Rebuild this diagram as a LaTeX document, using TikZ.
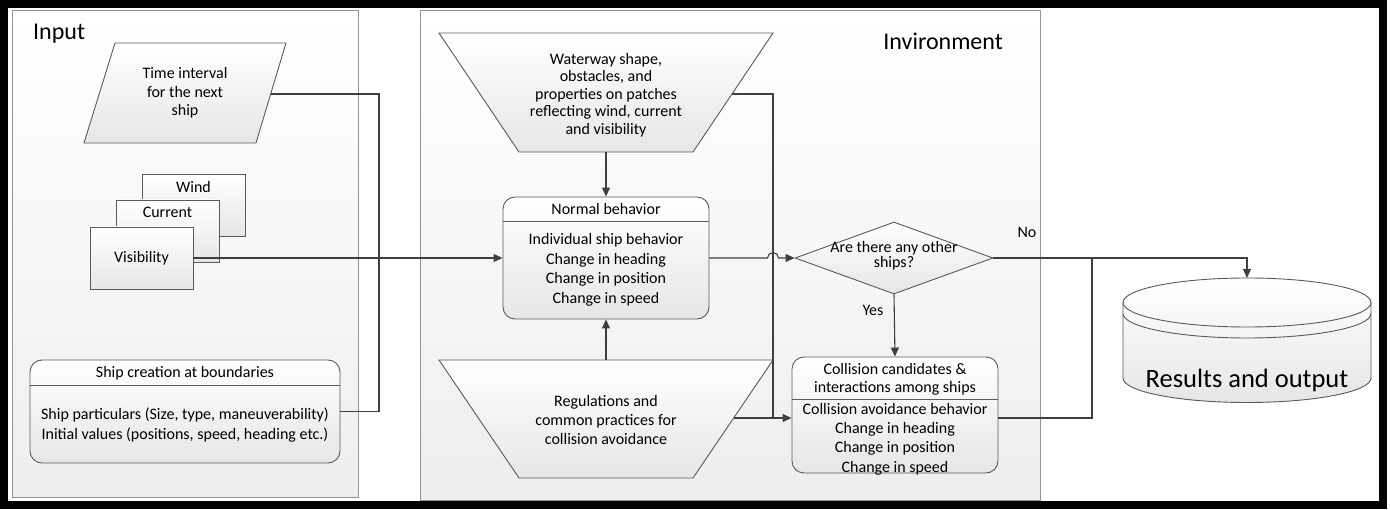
\documentclass[tikz,border=0pt]{standalone}
\usepackage{fontspec}
\setmainfont{Carlito}
\usetikzlibrary{arrows.meta,shapes.geometric}

\definecolor{lineC}{HTML}{3F3F3F}
\definecolor{edgeC}{HTML}{5A5A5A}
\definecolor{panelC}{HTML}{EEEEEE}
\definecolor{boxC}{HTML}{E6E6E6}

\tikzset{
  panel/.style={draw=gray!85, line width=0.8pt, top color=white, bottom color=panelC},
  shapebox/.style={draw=edgeC, line width=0.9pt, top color=white, bottom color=boxC},
  roundbox/.style={shapebox, rounded corners=12pt},
  txt/.style={font=\fontsize{16}{19.5}\selectfont, align=center, inner sep=0pt},
  bigtxt/.style={font=\fontsize{24}{28}\selectfont, inner sep=0pt},
  link/.style={draw=lineC, line width=1.1pt},
  flow/.style={link, -{Triangle[length=9pt,width=8pt]}}
}

\begin{document}
\begin{tikzpicture}[x=1pt, y=-1pt]

    \useasboundingbox (0,0) rectangle (1390,510);

    % Frame
    \draw[line width=8pt] (4,4) rectangle (1383,505);

    % Panels
    \draw[panel] (12,10) rectangle (358,497);
    \node[bigtxt, anchor=base west] (inputT) at (33,40) {Input};
    \draw[panel] (420,10) rectangle (1040,500);
    \node[bigtxt, anchor=base east] (envT) at (1003,50) {Invironment};

    % Time interval
    \draw[shapebox] (115,43) -- (286,43) -- (256,143) -- (84,143) -- cycle;
    \node[txt, font=\fontsize{16}{18.5}\selectfont] (timeT) at (185,93) {Time interval\\for the next\\ship};
    \coordinate (timeE) at (271,94);

    % Wind, current, visibility
    \node[shapebox, minimum width=103pt, minimum height=62pt] (wind) at (193.5,205) {};
    \node[txt] (windT) at ([yshift=-13pt]wind.north) {Wind};
    \node[shapebox, minimum width=103pt, minimum height=62pt] (curr) at (167.5,231) {};
    \node[txt] (currT) at ([yshift=-13pt]curr.north) {Current};
    \node[shapebox, txt, minimum width=103pt, minimum height=62pt] (vis) at (141.5,258) {Visibility};

    % Ship creation
    \node[roundbox, minimum width=310pt, minimum height=103pt] (ship) at (185,411.5) {};
    \draw[edgeC, line width=0.9pt] (ship.west |- 0,385) -- (ship.east |- 0,385);
    \node[txt] (shipT) at (185,373) {Ship creation at boundaries};
    \node[txt] (shipB) at (185,425) {Ship particulars (Size, type, maneuverability)\\Initial values (positions, speed, heading etc.)};

    % Input connectors
    \coordinate (join) at (379,258);
    \draw[link] (timeE) -| (join);
    \draw[link] (ship.east) -| (join);

    % Waterway
    \draw[shapebox] (439,33) -- (773,33) -- (693,152) -- (519,152) -- cycle;
    \node[txt, font=\fontsize{16}{17.5}\selectfont] (wwT) at (606,95) {Waterway shape,\\obstacles, and\\properties on patches\\reflecting wind, current\\and visibility};
    \coordinate (wwS) at (606,152);
    \coordinate (wwE) at (732,94);

    % Normal behavior
    \node[roundbox, minimum width=206pt, minimum height=122pt] (normal) at (606,258) {};
    \draw[edgeC, line width=0.9pt] (normal.west |- 0,221) -- (normal.east |- 0,221);
    \node[txt] (normalT) at (606,209) {Normal behavior};
    \node[txt] (normalB) at (606,270) {Individual ship behavior\\Change in heading\\Change in position\\Change in speed};

    % Regulations
    \draw[shapebox] (439,360) -- (773,360) -- (693,478) -- (519,478) -- cycle;
    \node[txt, font=\fontsize{16}{19}\selectfont] (regT) at (606,420) {Regulations and\\common practices for\\collision avoidance};
    \coordinate (regN) at (606,360);
    \coordinate (regE) at (734,418);

    % Decision
    \node[shapebox, diamond, minimum width=198pt, minimum height=72pt, inner sep=0pt] (dec) at (894,258) {};
    \node[txt, font=\fontsize{16}{15}\selectfont] (decT) at (894,256) {Are there any other\\ships?};
    \node[txt] (noT) at (1027,232) {No};
    \node[txt] (yesT) at (873,310) {Yes};

    % Collision candidates
    \node[roundbox, minimum width=206pt, minimum height=116pt] (coll) at (895,415) {};
    \draw[edgeC, line width=0.9pt] (coll.west |- 0,399) -- (coll.east |- 0,399);
    \node[txt, font=\fontsize{16}{18}\selectfont] (collT) at (895,379) {Collision candidates \&\\interactions among ships};
    \node[txt, font=\fontsize{16}{19.3}\selectfont] (collB) at (895,439) {Collision avoidance behavior\\Change in heading\\Change in position\\Change in speed};

    % Results and output
    \draw[shapebox] (1123,302.5) -- (1123,378) arc[start angle=180, end angle=360, x radius=124pt, y radius=24.5pt]
        -- (1371,302.5) arc[start angle=0, end angle=180, x radius=124pt, y radius=24.5pt] -- cycle;
    \draw[edgeC, line width=0.9pt] (1123,302.5) arc[start angle=180, end angle=360, x radius=124pt, y radius=24.5pt];
    \draw[edgeC, line width=0.9pt] (1123,313.5) arc[start angle=180, end angle=360, x radius=124pt, y radius=24.5pt];
    \node[font=\fontsize{26.5}{30}\selectfont, inner sep=0pt] (dbT) at (1247,380) {Results and output};
    \coordinate (dbN) at (1247,278);
    \coordinate (merge) at (1092,258);

    % Flow
    \draw[flow] (vis.east) -- (normal.west);
    \draw[flow] (wwS) -- (normal.north);
    \draw[flow] (regN) -- (normal.south);
    \draw[link] (wwE) -| (regE -| 773,0);
    \draw[flow] (regE) -- (regE -| coll.west);
    \draw[flow] (normal.east) -- (767.5,258) arc[start angle=180, end angle=0, radius=5.5pt] -- (dec.west);
    \draw[flow] (dec.south) -- (coll.north);
    \draw[flow] (dec.east) -| (dbN);
    \draw[link] (regE -| coll.east) -| (merge);

\end{tikzpicture}
\end{document}
